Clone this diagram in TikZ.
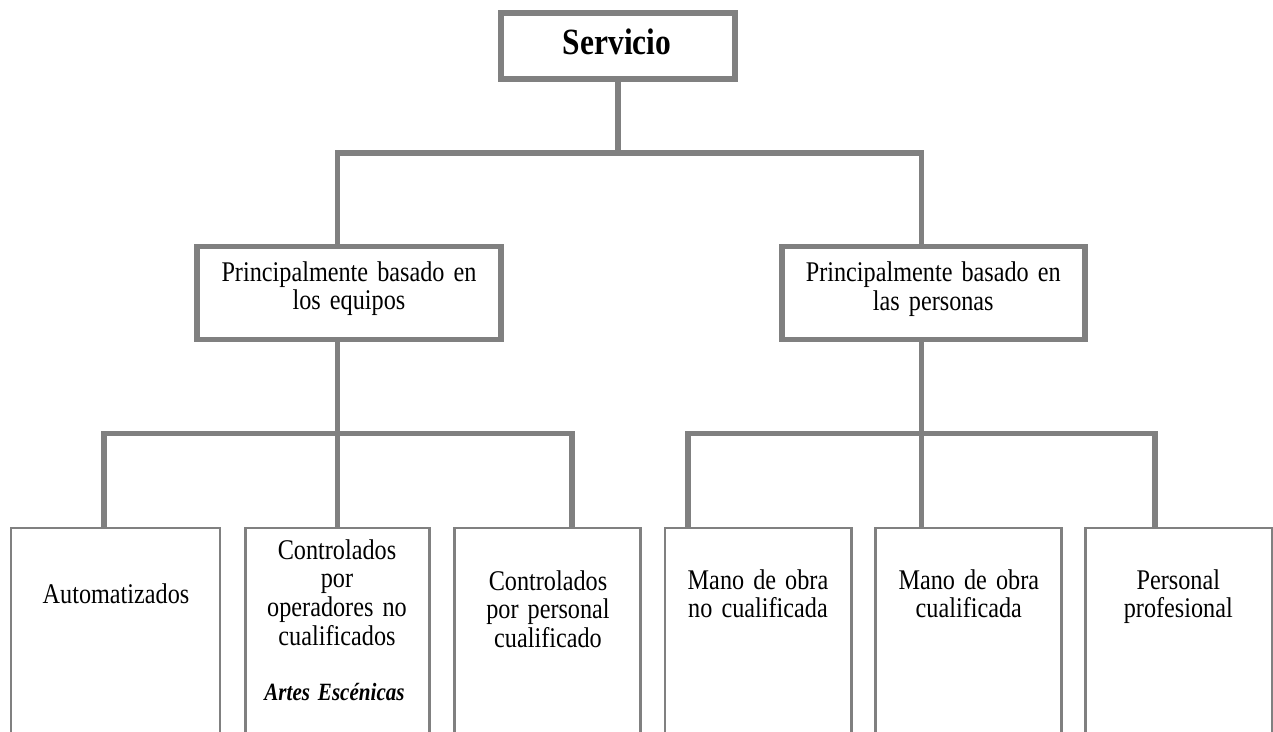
\documentclass[tikz,border=0pt]{standalone}
\usepackage{fontspec}
\setmainfont{Liberation Serif}[FakeStretch=0.85,WordSpace=1.5]
\usetikzlibrary{calc}
\definecolor{linegray}{RGB}{128,128,128}
\begin{document}
\begin{tikzpicture}[x=1pt,y=-1pt,
  conn/.style={draw=linegray,line width=5.5pt},
  bigbox/.style={rectangle,draw=linegray,line width=5.5pt,fill=white,inner sep=0pt,outer sep=0pt},
  leafbox/.style={rectangle,draw=linegray,line width=2.5pt,fill=white,inner sep=0pt,outer sep=0pt,minimum height=232pt},
  txt/.style={inner sep=0pt,anchor=base,text width=300pt,align=flush center,font=\fontsize{28.5}{28.7}\selectfont},
]
\path[use as bounding box,clip] (0,0) rectangle (1273,731);
\fill[white] (0,0) rectangle (1273,731);

% boxes
\node[bigbox,minimum width=234pt,minimum height=66pt] (serv) at (618,46) {};
\node[bigbox,minimum width=304pt,minimum height=93pt] (eqp) at (349,293) {};
\node[bigbox,minimum width=303pt,minimum height=93pt] (pers) at (933.5,293) {};

\node[leafbox,minimum width=209pt] (b1) at (115.5,644) {};
\node[leafbox,minimum width=184pt] (b2) at (337.5,644) {};
\node[leafbox,minimum width=186pt] (b3) at (547.5,644) {};
\node[leafbox,minimum width=186.5pt] (b4) at (758.25,644) {};
\node[leafbox,minimum width=186pt] (b5) at (968.5,644) {};
\node[leafbox,minimum width=186.3pt] (b6) at (1178.85,644) {};

% bus levels
\coordinate (lvl1) at (0,153);
\coordinate (lvl2) at (0,433.5);

% first level connectors
\coordinate (eqpUp) at ($(eqp.north west)+(140.5,0)$);
\coordinate (persUp) at ($(pers.north west)+(139.5,0)$);
\draw[conn] (serv.south) -- (serv.south |- lvl1);
\draw[conn] (eqpUp) -- (eqpUp |- lvl1) -- (persUp |- lvl1) -- (persUp);

% second level, equipment side
\coordinate (b1Up) at ($(b1.north west)+(93,0)$);
\coordinate (b3Up) at ($(b3.north west)+(117.5,0)$);
\draw[conn] (b1Up) -- (b1Up |- lvl2) -- (b3Up |- lvl2) -- (b3Up);
\draw[conn] ($(eqp.south west)+(140.5,0)$) -- ($(b2.north west)+(92,0)$);

% second level, people side
\coordinate (b4Up) at ($(b4.north west)+(23,0)$);
\coordinate (b6Up) at ($(b6.north west)+(69.3,0)$);
\draw[conn] (b4Up) -- (b4Up |- lvl2) -- (b6Up |- lvl2) -- (b6Up);
\draw[conn] ($(pers.south west)+(139.5,0)$) -- ($(b5.north west)+(46,0)$);

% texts
\node[txt,font=\bfseries\fontsize{37}{40}\selectfont] (servT) at (617,54.3) {Servicio};
\node[txt] (eqpT) at (349,281) {Principalmente basado en\\los equipos};
\node[txt] (persT) at (933.3,281.5) {Principalmente basado en\\las personas};
\node[txt] (b1T) at (116,603) {Automatizados};
\node[txt] (b2T) at (337,559) {Controlados\\por\\operadores no\\cualificados};
\node[txt,font=\bfseries\itshape\fontsize{24.8}{28}\selectfont] (b2E) at (334.5,700) {Artes Escénicas};
\node[txt] (b3T) at (548,590) {Controlados\\por personal\\cualificado};
\node[txt] (b4T) at (758,589) {Mano de obra\\no cualificada};
\node[txt] (b5T) at (968.8,589) {Mano de obra\\cualificada};
\node[txt] (b6T) at (1178.3,589) {Personal\\profesional};
\end{tikzpicture}
\end{document}
